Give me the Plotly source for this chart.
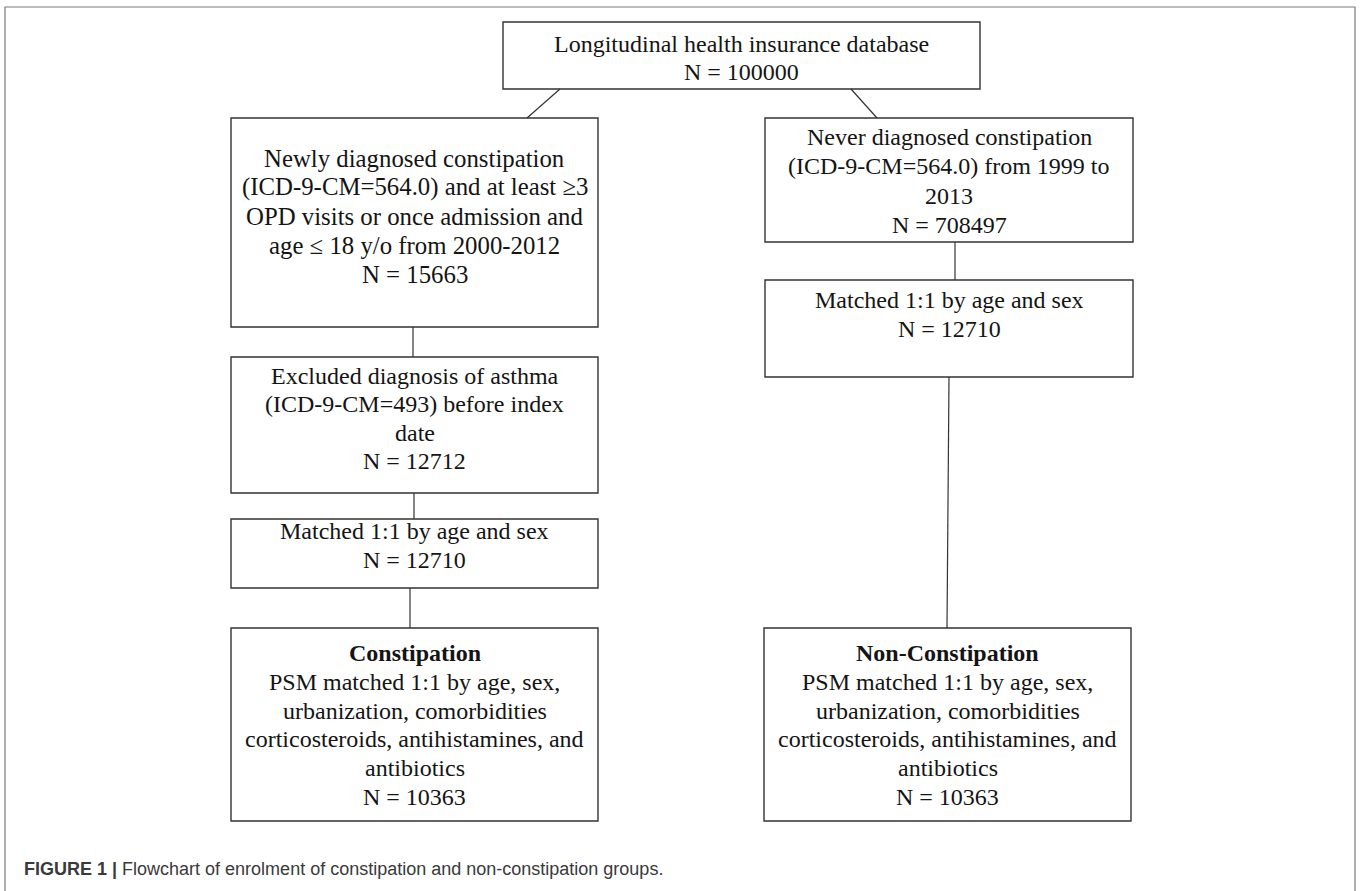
import plotly.graph_objects as go

W, H = 1360, 891

# ---- content (box texts) ----
box_names = ["source", "case1", "ctrl1", "ctrl2", "case2", "case3", "case4", "ctrl4"]
box_lines = [
    ["Longitudinal health insurance database", "N = 100000"],
    ["Newly diagnosed constipation", "(ICD-9-CM=564.0) and at least \u22653",
     "OPD visits or once admission and", "age \u2264 18 y/o from 2000-2012", "N = 15663"],
    ["Never diagnosed constipation", "(ICD-9-CM=564.0) from 1999 to", "2013", "N = 708497"],
    ["Matched 1:1 by age and sex", "N = 12710"],
    ["Excluded diagnosis of asthma", "(ICD-9-CM=493) before index", "date", "N = 12712"],
    ["Matched 1:1 by age and sex", "N = 12710"],
    ["<b>Constipation</b>", "PSM matched 1:1 by age, sex,", "urbanization, comorbidities",
     "corticosteroids, antihistamines, and", "antibiotics", "N = 10363"],
    ["<b>Non-Constipation</b>", "PSM matched 1:1 by age, sex,", "urbanization, comorbidities",
     "corticosteroids, antihistamines, and", "antibiotics", "N = 10363"],
]
caption_label = "FIGURE 1 |"
caption_text = "Flowchart of enrolment of constipation and non-constipation groups."

# ---- layout geometry (pixels) ----
box_x0 = [503, 231, 765, 765, 231, 231, 231, 764]
box_x1 = [980, 598, 1133, 1133, 598, 598, 598, 1131]
box_y0 = [22, 118, 118, 280, 357, 519, 628, 628]
box_y1 = [89, 327, 242, 377, 493, 588, 821, 821]
first_line_y = [44, 158, 137, 300, 376, 531, 653, 653]
line_step = [28, 29, 29.3, 29, 28.3, 29, 28.8, 28.8]
font_size = [24, 24.8, 24, 24, 24, 24, 24, 24]

conn_x0 = [560, 851, 413, 414, 410, 955, 949]
conn_y0 = [89, 89, 327, 493, 588, 242, 377]
conn_x1 = [527, 877, 413, 414, 410, 955, 947]
conn_y1 = [118, 118, 357, 519, 628, 280, 628]

fig = go.Figure()
shapes = []
annotations = []

# outer frame
shapes.append(dict(type="rect", x0=5, x1=1355, y0=7, y1=H + 10,
                   line=dict(color="#7a7a7a", width=1.2)))

for i in range(len(box_names)):
    shapes.append(dict(type="rect", x0=box_x0[i], x1=box_x1[i], y0=box_y0[i], y1=box_y1[i],
                       line=dict(color="#333333", width=1.4), fillcolor="white"))
    cx = (box_x0[i] + box_x1[i]) / 2
    for j, txt in enumerate(box_lines[i]):
        annotations.append(dict(x=cx, y=first_line_y[i] + j * line_step[i], text=txt,
                                showarrow=False, xanchor="center", yanchor="middle",
                                font=dict(family="Liberation Serif", size=font_size[i],
                                          color="#141414")))

for k in range(len(conn_x0)):
    shapes.append(dict(type="line", x0=conn_x0[k], y0=conn_y0[k], x1=conn_x1[k], y1=conn_y1[k],
                       line=dict(color="#333333", width=1.2)))

annotations.append(dict(x=22, y=869, xanchor="left", yanchor="middle", showarrow=False,
                        text=f"<b>{caption_label}</b> {caption_text}",
                        font=dict(family="Liberation Sans", size=18, color="#3a3a3a")))

fig.update_layout(
    width=W, height=H, margin=dict(l=0, r=0, t=0, b=0),
    paper_bgcolor="white", plot_bgcolor="white",
    xaxis=dict(range=[0, W], visible=False, fixedrange=True),
    yaxis=dict(range=[H, 0], visible=False, fixedrange=True),
    shapes=shapes, annotations=annotations, showlegend=False,
)

fig.write_html("out.html", config={"displayModeBar": False},
               post_script="document.body.style.margin='0';document.body.style.overflow='hidden';")
